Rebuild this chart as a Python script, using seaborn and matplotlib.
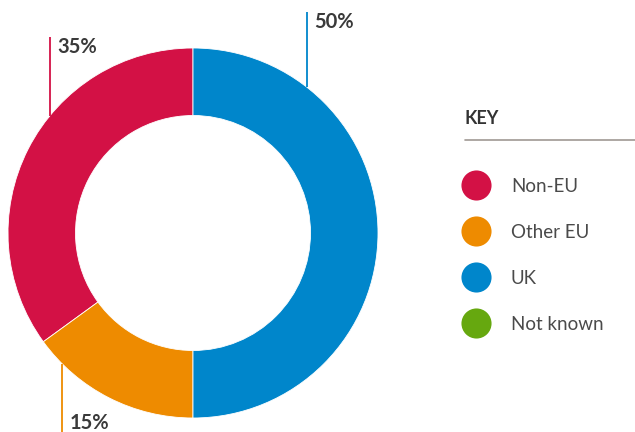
import numpy as np
import pandas as pd
import matplotlib.pyplot as plt
import seaborn as sns

# data
categories = ['Non-EU', 'Other EU', 'UK', 'Not known']
shares = [35, 15, 50, 0]
colours = ['#D31145', '#EE8B00', '#0086CB', '#66A80F']

# where each leader line leaves the ring (degrees) and how long it is (px)
label_angle = {'Non-EU': 140.6, 'Other EU': 225.1, 'UK': 52.0}
line_len = {'Non-EU': 79, 'Other EU': 69, 'UK': 75}

sns.set_theme(style='white')
plt.rcParams['font.family'] = ['Lato', 'DejaVu Sans']

df = pd.DataFrame({'category': categories, 'share': shares, 'colour': colours})
drawn = df[df['share'] > 0]

W, H = 635, 432
fig = plt.figure(figsize=(W / 100, H / 100), dpi=100)
ax = fig.add_axes([0, 0, 1, 1])

cx, cy, R, ring = 193, 199, 185, 67.5
ax.pie(drawn['share'], colors=drawn['colour'], startangle=90, counterclock=True,
       radius=R, center=(cx, cy),
       wedgeprops=dict(width=ring, edgecolor='white', linewidth=0.6))

# leader lines and percentage labels
for _, row in drawn.iterrows():
    a = np.deg2rad(label_angle[row['category']])
    x0 = cx + R * np.cos(a)
    y0 = cy + R * np.sin(a)
    d = 1 if np.sin(a) > 0 else -1
    y1 = y0 + d * line_len[row['category']]
    ax.plot([x0, x0], [y0, y1], color=row['colour'], lw=1.3, solid_capstyle='butt')
    ax.text(x0 + 7, y1 - d * 10, f"{row['share']}%", ha='left', va='center',
            fontsize=14.5, fontweight='bold', color='#3a3a3a')

# key
ax.text(465, H - 118.5, 'KEY', ha='left', va='center', fontsize=13,
        fontweight='bold', color='#333333')
ax.plot([465, 640], [H - 140, H - 140], color='#a09893', lw=1.2)
for i, (cat, col) in enumerate(zip(categories, colours)):
    y = H - (185.5 + i * 46)
    ax.scatter([476.5], [y], s=470, color=col, edgecolor='none')
    ax.text(511, y - 1, cat, ha='left', va='center', fontsize=13.5,
            fontweight='normal', color='#4a4a4a')

ax.set_xlim(0, W)
ax.set_ylim(0, H)
ax.set_aspect('equal')
ax.axis('off')

fig.savefig('out.png', dpi=100)
